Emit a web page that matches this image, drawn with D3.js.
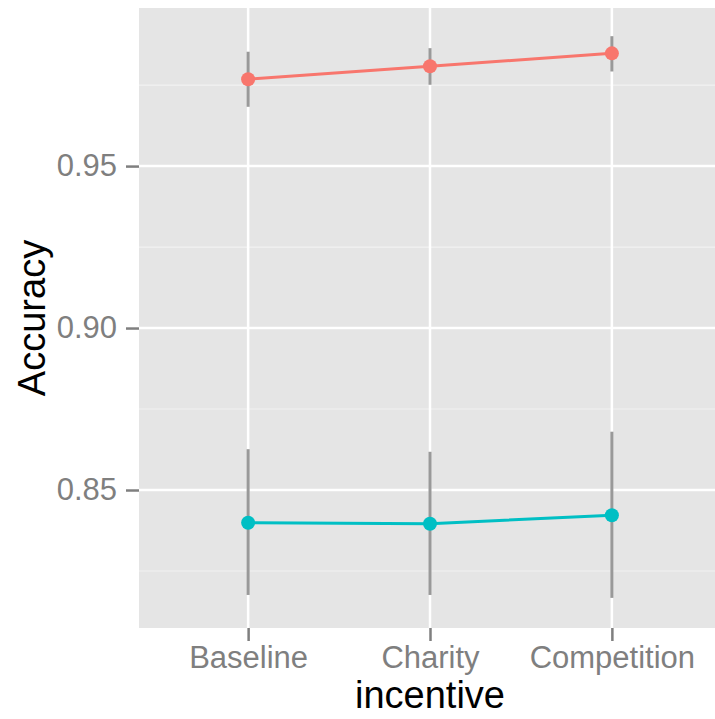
<!DOCTYPE html>
<html>
<head>
<meta charset="utf-8">
<script src="https://cdn.jsdelivr.net/npm/d3@7"></script>
<style>
  html, body { margin: 0; padding: 0; background: #fff; overflow: hidden; }
  svg { display: block; font-family: "Liberation Sans", Arial, sans-serif; }
</style>
</head>
<body>
<div id="chart"></div>
<script>
// data
const incentives = ['Baseline', 'Charity', 'Competition'];
const highMean = [0.9768, 0.9808, 0.9848];
const highLow = [0.9683, 0.9751, 0.9792];
const highHigh = [0.9853, 0.9864, 0.9901];
const lowMean = [0.8399, 0.8396, 0.8422];
const lowLow = [0.8176, 0.8176, 0.8167];
const lowHigh = [0.8626, 0.8618, 0.8680];
const yTicks = [0.85, 0.90, 0.95];
const yMinor = [0.825, 0.875, 0.925, 0.975];

const W = 715, H = 719;
// panel runs a bit past the right edge of the picture
const margin = { top: 8, left: 139 };
const width = 582;
const height = 620;

const svg = d3.select('#chart').append('svg')
    .attr('width', W)
    .attr('height', H);

const g = svg.append('g')
    .attr('transform', `translate(${margin.left},${margin.top})`);

// discrete x with ggplot-style 0.6 expansion
const x = d3.scalePoint()
    .domain(incentives)
    .range([width * 0.6 / 3.2, width * 2.6 / 3.2]);

const y = d3.scaleLinear()
    .domain([0.8074, 0.9988])
    .range([height, 0]);

// panel background
g.append('rect')
    .attr('width', width)
    .attr('height', height)
    .attr('fill', '#e5e5e5');

// minor grid
g.selectAll('.minor').data(yMinor).enter().append('line')
    .attr('x1', 0).attr('x2', width)
    .attr('y1', d => y(d)).attr('y2', d => y(d))
    .attr('stroke', '#f2f2f2')
    .attr('stroke-width', 1.2);

// major grid
g.selectAll('.hmajor').data(yTicks).enter().append('line')
    .attr('x1', 0).attr('x2', width)
    .attr('y1', d => y(d)).attr('y2', d => y(d))
    .attr('stroke', '#fff')
    .attr('stroke-width', 2.5);
g.selectAll('.vmajor').data(incentives).enter().append('line')
    .attr('x1', d => x(d)).attr('x2', d => x(d))
    .attr('y1', 0).attr('y2', height)
    .attr('stroke', '#fff')
    .attr('stroke-width', 2.5);

// axes
const yAxis = g.append('g')
    .call(d3.axisLeft(y).tickValues(yTicks).tickFormat(d3.format('.2f')).tickSize(13).tickPadding(9));
const xAxis = g.append('g')
    .attr('transform', `translate(0,${height})`)
    .call(d3.axisBottom(x).tickSize(13).tickPadding(5));
[xAxis, yAxis].forEach(a => {
    a.select('.domain').remove();
    a.selectAll('.tick line').attr('stroke', '#7f7f7f').attr('stroke-width', 2.5);
    a.selectAll('.tick text')
        .attr('fill', '#7f7f7f')
        .style('font-size', '31px')
        .style('font-family', '"Liberation Sans", Arial, sans-serif');
});

// series
const series = [
    { mean: highMean, lo: highLow, hi: highHigh, color: '#F8766D' },
    { mean: lowMean, lo: lowLow, hi: lowHigh, color: '#00BFC4' }
];

series.forEach(s => {
    const pts = incentives.map((c, i) => ({ c, m: s.mean[i], lo: s.lo[i], hi: s.hi[i] }));
    g.selectAll(null).data(pts).enter().append('line')
        .attr('x1', d => x(d.c)).attr('x2', d => x(d.c))
        .attr('y1', d => y(d.lo)).attr('y2', d => y(d.hi))
        .attr('stroke', '#999999')
        .attr('stroke-width', 3);
    g.append('path')
        .datum(pts)
        .attr('fill', 'none')
        .attr('stroke', s.color)
        .attr('stroke-width', 3)
        .attr('d', d3.line().x(d => x(d.c)).y(d => y(d.m)));
    g.selectAll(null).data(pts).enter().append('circle')
        .attr('cx', d => x(d.c))
        .attr('cy', d => y(d.m))
        .attr('r', 7)
        .attr('fill', s.color);
});

// axis titles
svg.append('text')
    .attr('x', 430)
    .attr('y', 708)
    .attr('text-anchor', 'middle')
    .style('font-size', '38px')
    .attr('fill', '#000')
    .text('incentive');

svg.append('text')
    .attr('transform', `translate(45,${margin.top + 310}) rotate(-90)`)
    .attr('text-anchor', 'middle')
    .style('font-size', '38px')
    .attr('fill', '#000')
    .text('Accuracy');
</script>
</body>
</html>
